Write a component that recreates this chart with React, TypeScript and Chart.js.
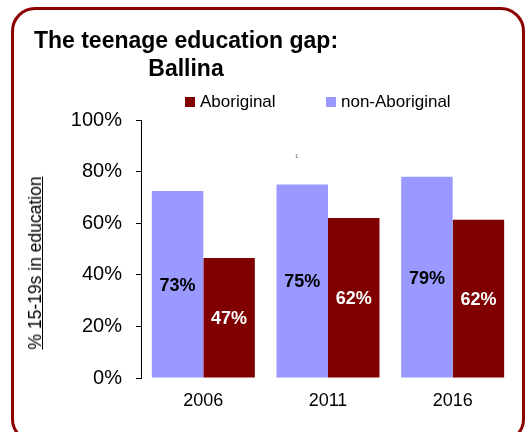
import React, { useEffect, useRef } from "react";
import { Chart, registerables } from "chart.js";

Chart.register(...registerables);

const categories = ["2006", "2011", "2016"];
const nonAboriginalValues = [72.5, 75, 78];
const aboriginalValues = [46.5, 62, 61.3];
const nonAboriginalLabels = ["73%", "75%", "79%"];
const aboriginalLabels = ["47%", "62%", "62%"];
const seriesNames = ["non-Aboriginal", "Aboriginal"];
const legendOrder = ["Aboriginal", "non-Aboriginal"];
const titleLines = ["The teenage education gap:", "Ballina"];
const yAxisTitle = "% 15-19s in education";

const NON_ABO_COLOR = "#9999FF";
const ABO_COLOR = "#800000";
const FONT = "'Liberation Sans', Arial, Helvetica, sans-serif";

const barLabelPlugin = {
  id: "barLabels",
  afterDatasetsDraw(chart: any) {
    const ctx = chart.ctx;
    const labelSets = [nonAboriginalLabels, aboriginalLabels];
    const colors = ["#000000", "#ffffff"];
    ctx.save();
    ctx.font = `bold 18px ${FONT}`;
    ctx.textAlign = "center";
    ctx.textBaseline = "middle";
    chart.data.datasets.forEach((_: any, di: number) => {
      const meta = chart.getDatasetMeta(di);
      meta.data.forEach((el: any, i: number) => {
        const y = (el.y + el.base) / 2 + 1.5;
        ctx.fillStyle = colors[di];
        ctx.fillText(labelSets[di][i], el.x, y);
      });
    });
    ctx.restore();
  },
};

export default function App() {
  const ref = useRef<HTMLCanvasElement | null>(null);

  useEffect(() => {
    if (!ref.current) return;
    const chart = new Chart(ref.current, {
      type: "bar",
      data: {
        labels: categories,
        datasets: [
          {
            label: seriesNames[0],
            data: nonAboriginalValues,
            backgroundColor: NON_ABO_COLOR,
            borderWidth: 0,
            categoryPercentage: 0.826,
            barPercentage: 1,
          },
          {
            label: seriesNames[1],
            data: aboriginalValues,
            backgroundColor: ABO_COLOR,
            borderWidth: 0,
            categoryPercentage: 0.826,
            barPercentage: 1,
          },
        ],
      },
      options: {
        responsive: false,
        animation: false,
        devicePixelRatio: 1,
        layout: { padding: { left: 0, right: 16, top: 120, bottom: 0 } },
        plugins: {
          legend: { display: false },
          title: { display: false },
          tooltip: { enabled: false },
        },
        scales: {
          x: {
            grid: { display: false, drawTicks: false },
            border: { display: false },
            ticks: {
              color: "#000",
              font: { family: FONT, size: 18 },
              padding: 12,
            },
            afterFit: (s: any) => {
              s.height = 54;
            },
          },
          y: {
            min: 0,
            max: 100,
            ticks: {
              stepSize: 10,
              color: "#000",
              font: { family: FONT, size: 20 },
              padding: 14,
              callback: (v: any) => (Number(v) % 20 === 0 ? `${v}%` : ""),
            },
            grid: {
              drawOnChartArea: false,
              drawTicks: true,
              tickLength: 5,
              color: "#000",
            },
            border: { display: true, color: "#000", width: 1 },
            afterFit: (s: any) => {
              s.width = 141;
            },
          },
        },
      },
      plugins: [barLabelPlugin],
    });
    return () => chart.destroy();
  }, []);

  const legendColors: Record<string, string> = {
    Aboriginal: ABO_COLOR,
    "non-Aboriginal": NON_ABO_COLOR,
  };
  const legendX = [185, 326];

  return (
    <div
      style={{
        position: "fixed",
        left: 0,
        top: 0,
        width: 531,
        height: 432,
        background: "#fff",
        overflow: "hidden",
        fontFamily: FONT,
      }}
    >
      <div
        style={{
          position: "absolute",
          left: 11,
          top: 7,
          width: 508,
          height: 430,
          border: "3px solid #8B0000",
          borderRadius: 24,
        }}
      />
      <canvas
        ref={ref}
        width={531}
        height={432}
        style={{ position: "absolute", left: 0, top: 0, width: 531, height: 432 }}
      />
      <div
        style={{
          position: "absolute",
          left: 186 - 200,
          top: 26,
          width: 400,
          textAlign: "center",
          fontWeight: "bold",
          fontSize: 23,
          lineHeight: "28px",
          color: "#000",
        }}
      >
        {titleLines.map((t) => (
          <div key={t}>{t}</div>
        ))}
      </div>
      {legendOrder.map((name, i) => (
        <div
          key={name}
          style={{
            position: "absolute",
            left: legendX[i],
            top: 91,
            height: 22,
            display: "flex",
            alignItems: "center",
            whiteSpace: "nowrap",
            fontSize: 17,
            color: "#000",
          }}
        >
          <span
            style={{
              display: "inline-block",
              width: 10,
              height: 10,
              background: legendColors[name],
              marginRight: 5,
            }}
          />
          <span>{name}</span>
        </div>
      ))}
      <div
        style={{
          position: "absolute",
          left: 35,
          top: 263,
          transform: "translate(-50%, -50%) rotate(-90deg)",
          whiteSpace: "nowrap",
          fontSize: 17.5,
          lineHeight: "20px",
          textDecoration: "underline",
          color: "#000",
        }}
      >
        {yAxisTitle}
      </div>
      <div
        style={{
          position: "absolute",
          left: 295,
          top: 153,
          fontSize: 6,
          color: "#666",
        }}
      >
        1
      </div>
    </div>
  );
}
